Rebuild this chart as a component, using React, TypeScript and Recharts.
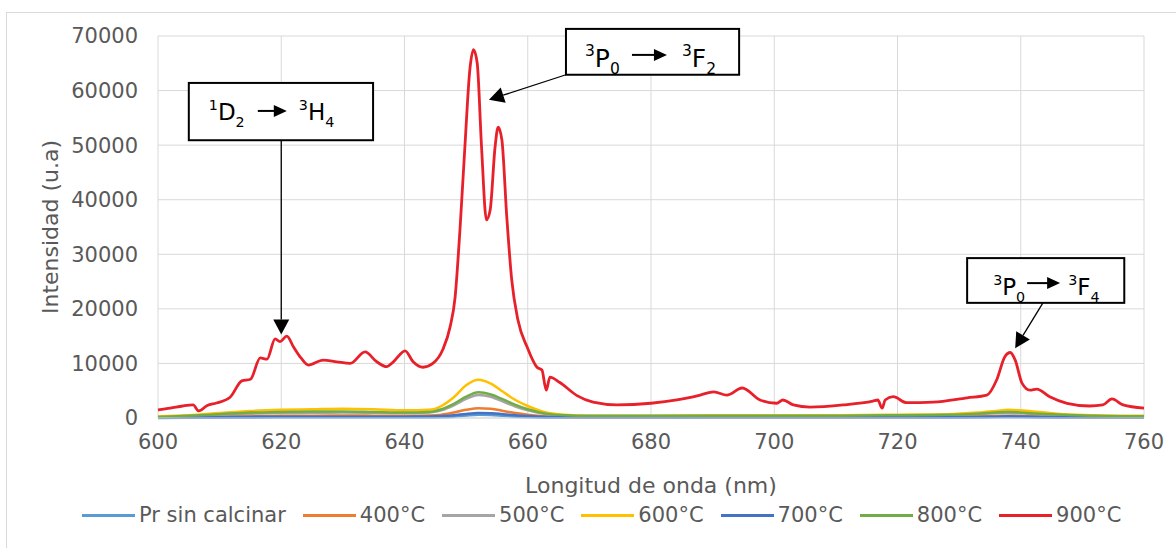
import React from "react";
import {
  LineChart, Line, XAxis, YAxis, CartesianGrid, ReferenceArea, ReferenceLine,
} from "recharts";

// ticks
const X_TICKS = [600, 620, 640, 660, 680, 700, 720, 740, 760];
const Y_TICKS = [0, 10000, 20000, 30000, 40000, 50000, 60000, 70000];

// 900°C spectrum
const RED_NM = [
  600, 602, 604, 605.7, 606.6, 608, 609.5, 611.7, 613.6, 615, 616.6, 617.7, 619, 619.8, 620.9,
  622, 623.2, 624.4, 626.8, 629, 631.2, 633.6, 635.5, 637.1, 638.2, 640.1, 641.4, 643, 644.6,
  646.2, 647.4, 648.2, 649, 649.8, 650.6, 651.2, 651.8, 652.5, 653.3, 653.9, 654.7, 655.2, 655.8,
  656.6, 657.4, 658.4, 659.9, 661.5, 662.3, 663, 663.6, 665.2, 668, 670.6, 674.5, 680, 684.2,
  688, 690.2, 692.3, 694.8, 697.7, 700.4, 701.4, 703.1, 705.8, 711.2, 716, 716.8, 717.5, 718,
  719.3, 721.5, 725.8, 731.3, 734.5, 736.1, 737.4, 738.3, 739.1, 740.2, 741.5, 742.6, 744.7,
  747.5, 751.2, 753.3, 754.8, 756.6, 760,
];
const RED_VAL = [
  1500, 1800, 2200, 2400, 1300, 2300, 2750, 3800, 6800, 7100, 11000, 10800, 14500, 14000, 15000,
  13000, 11000, 9700, 10600, 10300, 10000, 12100, 10300, 9400, 10300, 12300, 10300, 9300, 10000,
  12500, 16700, 22000, 34500, 49700, 63800, 67500, 65000, 49700, 36300, 38100, 49700, 53300, 51000,
  36800, 25300, 18000, 13000, 9300, 8800, 5100, 7500, 6500, 4100, 2900, 2400, 2700, 3300,
  4200, 4800, 4200, 5500, 3300, 2700, 3300, 2400, 2000, 2400, 3100, 3300, 1800, 3300,
  3900, 2800, 2900, 3700, 4200, 7000, 11200, 12000, 10600, 6400, 5100, 5300, 3900,
  2700, 2200, 2400, 3500, 2400, 1800,
];

// the weaker spectra share one wavelength grid
const BASE_NM = [
  600, 605, 610, 615, 620, 625, 630, 635, 640, 644, 646, 648, 650, 652, 654, 656, 658, 660,
  663, 666, 670, 680, 690, 700, 710, 720, 728, 733, 736, 738, 740, 743, 747, 752, 760,
];
const PR_SIN = [20, 30, 50, 60, 80, 80, 80, 80, 80, 100, 150, 250, 450, 600, 550, 400, 250, 150, 60, 40, 30, 30, 40, 40, 40, 40, 50, 80, 120, 150, 130, 90, 60, 40, 30];
const T400 = [100, 150, 300, 350, 400, 420, 450, 430, 400, 450, 600, 1000, 1500, 1800, 1700, 1300, 900, 600, 300, 200, 150, 150, 200, 200, 200, 200, 250, 300, 350, 400, 380, 300, 200, 150, 100];
const T500 = [150, 300, 600, 800, 900, 950, 1000, 950, 900, 1000, 1400, 2300, 3500, 4200, 3900, 3000, 2100, 1400, 700, 400, 300, 300, 350, 350, 350, 400, 500, 700, 850, 900, 850, 650, 450, 300, 250];
const T600 = [300, 500, 900, 1300, 1500, 1600, 1700, 1600, 1400, 1500, 2200, 3800, 6000, 7000, 6300, 4800, 3300, 2200, 1000, 600, 400, 400, 500, 500, 500, 600, 700, 1000, 1300, 1500, 1400, 1100, 700, 500, 400];
const T700 = [50, 100, 150, 200, 250, 250, 250, 250, 250, 280, 350, 500, 750, 900, 850, 700, 500, 350, 200, 150, 100, 100, 120, 120, 120, 130, 150, 200, 250, 300, 280, 200, 150, 100, 80];
const T800 = [200, 400, 700, 1000, 1100, 1200, 1200, 1100, 1000, 1100, 1600, 2600, 3900, 4700, 4300, 3400, 2400, 1600, 800, 500, 400, 400, 400, 400, 400, 500, 600, 800, 1000, 1100, 1000, 800, 600, 400, 300];

const SERIES_NAMES = ["Pr sin calcinar", "400°C", "500°C", "600°C", "700°C", "800°C", "900°C"];
const SERIES_COLORS = ["#5b9bd5", "#ed7d31", "#a5a5a5", "#ffc000", "#4472c4", "#70ad47", "#e8202a"];

const toPoints = (xs: number[], ys: number[]) => xs.map((nm, i) => ({ nm, v: ys[i] }));

const series = [
  toPoints(BASE_NM, PR_SIN),
  toPoints(BASE_NM, T400),
  toPoints(BASE_NM, T500),
  toPoints(BASE_NM, T600),
  toPoints(BASE_NM, T700),
  toPoints(BASE_NM, T800),
  toPoints(RED_NM, RED_VAL),
];

const FONT = "'DejaVu Sans', 'Liberation Sans', Arial, sans-serif";
const AXIS_GRAY = "#595959";
const GRID = "#d9d9d9";

type Term = { sup: string; base: string; sub: string };

// transition labels; box corners + pointer in data units
const NOTES = [
  {
    box: { x1: 605, x2: 634.9, y1: 50900, y2: 61400 },
    from: { sup: "1", base: "D", sub: "2" }, to: { sup: "3", base: "H", sub: "4" },
    ptr: [{ x: 620, y: 50900 }, { x: 620, y: 15300 }],
    fs: 23, left: 20, a1: 69, a2: 98, right: 110, base: 37, ay: 28,
  },
  {
    box: { x1: 666.2, x2: 694.3, y1: 62900, y2: 71300 },
    from: { sup: "3", base: "P", sub: "0" }, to: { sup: "3", base: "F", sub: "2" },
    ptr: [{ x: 666.2, y: 62900 }, { x: 653.7, y: 58300 }],
    fs: 25, left: 19, a1: 66, a2: 101, right: 116, base: 38, ay: 26,
  },
  {
    box: { x1: 731.3, x2: 756.8, y1: 21100, y2: 29300 },
    from: { sup: "3", base: "P", sub: "0" }, to: { sup: "3", base: "F", sub: "4" },
    ptr: [{ x: 743.6, y: 21100 }, { x: 739.1, y: 12800 }],
    fs: 23, left: 26, a1: 60, a2: 93, right: 101, base: 37, ay: 25,
  },
];

function TermText({ t, x, y, fs }: { t: Term; x: number; y: number; fs: number }) {
  return (
    <text x={x} y={y} fontSize={fs} fill="#000" style={{ fontFamily: FONT }}>
      <tspan fontSize={fs * 0.62} dy={-fs * 0.42}>{t.sup}</tspan>
      <tspan dy={fs * 0.42}>{t.base}</tspan>
      <tspan fontSize={fs * 0.62} dy={fs * 0.3}>{t.sub}</tspan>
    </text>
  );
}

const makeBox = (n: typeof NOTES[number]) => (p: any) => {
  const { x, y, width, height } = p;
  const ay = y + n.ay;
  const ax1 = x + n.a1;
  const ax2 = x + n.a2;
  return (
    <g>
      <rect x={x} y={y} width={width} height={height} fill="#fff" stroke="#000" strokeWidth={2} />
      <TermText t={n.from} x={x + n.left} y={y + n.base} fs={n.fs} />
      <line x1={ax1} y1={ay} x2={ax2 - 10} y2={ay} stroke="#000" strokeWidth={2} />
      <polygon points={`${ax2 - 13},${ay - 6} ${ax2},${ay} ${ax2 - 13},${ay + 6}`} fill="#000" />
      <TermText t={n.to} x={x + n.right} y={y + n.base} fs={n.fs} />
    </g>
  );
};

const Pointer = (p: any) => {
  const { x1, y1, x2, y2 } = p;
  const ang = Math.atan2(y2 - y1, x2 - x1);
  const L = 15;
  const W = 8;
  const bx = x2 - L * Math.cos(ang);
  const by = y2 - L * Math.sin(ang);
  const px = -Math.sin(ang) * W;
  const py = Math.cos(ang) * W;
  return (
    <g>
      <line x1={x1} y1={y1} x2={bx} y2={by} stroke="#000" strokeWidth={1.3} />
      <polygon points={`${x2},${y2} ${bx + px},${by + py} ${bx - px},${by - py}`} fill="#000" />
    </g>
  );
};

const YTitle = ({ viewBox }: any) => {
  const cx = viewBox.x + 50;
  const cy = viewBox.y + viewBox.height / 2;
  return (
    <text x={cx} y={cy} transform={`rotate(-90 ${cx} ${cy})`} textAnchor="middle"
      dominantBaseline="central" fill={AXIS_GRAY} fontSize={22} style={{ fontFamily: FONT }}>
      Intensidad (u.a)
    </text>
  );
};

const XTitle = ({ viewBox }: any) => {
  const cx = viewBox.x + viewBox.width / 2;
  const cy = viewBox.y + 67;
  return (
    <text x={cx} y={cy} textAnchor="middle" dominantBaseline="central"
      fill={AXIS_GRAY} fontSize={22} style={{ fontFamily: FONT }}>
      Longitud de onda (nm)
    </text>
  );
};

export default function App() {
  return (
    <div style={{ position: "relative", width: 1176, height: 548, overflow: "hidden", background: "#fff" }}>
      <style>{"body{margin:0}"}</style>
      <div style={{ position: "absolute", left: 6, top: 12, width: 1200, height: 600, border: `1px solid ${GRID}` }} />
      <div style={{ position: "absolute", left: 0, top: 0 }}>
        <LineChart width={1176} height={548} margin={{ top: 36, right: 32, bottom: 40, left: 0 }}
          style={{ fontFamily: FONT }}>
          <CartesianGrid stroke={GRID} strokeWidth={1} />
          <XAxis dataKey="nm" type="number" domain={[600, 760]} ticks={X_TICKS} height={90}
            axisLine={{ stroke: GRID }} tickLine={false} tickSize={0} tickMargin={16}
            tick={{ fill: AXIS_GRAY, fontSize: 21 }} label={<XTitle />} />
          <YAxis type="number" domain={[0, 70000]} ticks={Y_TICKS} width={158}
            axisLine={false} tickLine={false} tickSize={0} tickMargin={20}
            tick={{ fill: AXIS_GRAY, fontSize: 21 }} label={<YTitle />} />
          {series.map((d, i) => (
            <Line key={SERIES_NAMES[i]} data={d} dataKey="v" name={SERIES_NAMES[i]}
              type="monotone" stroke={SERIES_COLORS[i]} strokeWidth={i === 6 ? 2.8 : 2.5}
              dot={false} activeDot={false} isAnimationActive={false} />
          ))}
          {NOTES.map((n, i) => (
            <ReferenceLine key={`p${i}`} segment={n.ptr} ifOverflow="visible" shape={Pointer} />
          ))}
          {NOTES.map((n, i) => (
            <ReferenceArea key={`b${i}`} x1={n.box.x1} x2={n.box.x2} y1={n.box.y1} y2={n.box.y2}
              ifOverflow="visible" shape={makeBox(n)} />
          ))}
        </LineChart>
      </div>
      <div style={{
        position: "absolute", left: 82, top: 503, display: "flex", alignItems: "center",
        gap: 17, fontFamily: FONT, fontSize: 21, color: AXIS_GRAY, whiteSpace: "nowrap",
      }}>
        {SERIES_NAMES.map((name, i) => (
          <div key={name} style={{ display: "flex", alignItems: "center" }}>
            <span style={{ display: "inline-block", width: 53, height: 3, background: SERIES_COLORS[i], marginRight: 4 }} />
            <span>{name}</span>
          </div>
        ))}
      </div>
    </div>
  );
}
